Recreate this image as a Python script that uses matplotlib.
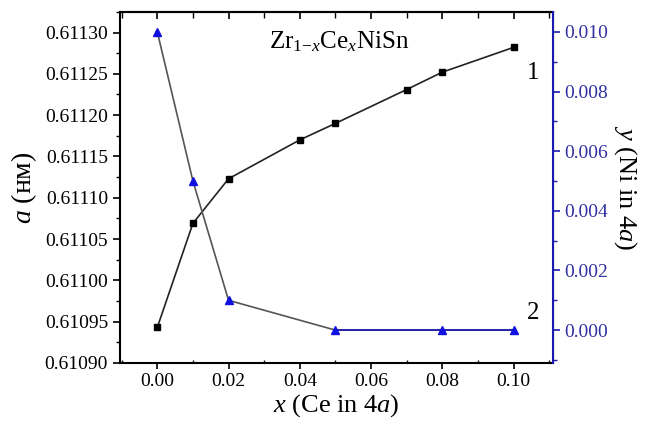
import matplotlib
matplotlib.use("Agg")
import matplotlib.pyplot as plt
from matplotlib.ticker import MultipleLocator, FormatStrFormatter

plt.rcParams['font.family'] = ['Liberation Serif', 'DejaVu Serif']
plt.rcParams['mathtext.fontset'] = 'custom'
plt.rcParams['mathtext.rm'] = 'Liberation Serif'
plt.rcParams['mathtext.it'] = 'Liberation Serif:italic'

# Series 1: lattice parameter a (nm)
x1 = [0.00, 0.01, 0.02, 0.04, 0.05, 0.07, 0.08, 0.10]
a1 = [0.610943, 0.611069, 0.611123, 0.611170, 0.611190, 0.611231, 0.611252, 0.611282]
# Series 2: y (Ni in 4a)
x2 = [0.00, 0.01, 0.02, 0.05, 0.08, 0.10]
y2 = [0.010, 0.005, 0.001, 0.000, 0.000, 0.000]

xticks = [0.00, 0.02, 0.04, 0.06, 0.08, 0.10]
blue = '#1a1ab0'

fig = plt.figure(figsize=(6.48, 4.24), dpi=100)
ax = fig.add_axes([0.185, 0.144, 0.668, 0.828])
ax2 = ax.twinx()

ax.plot(x1, a1, color='#222222', lw=1.2, marker='s', ms=5, mfc='black', mec='black', zorder=3)
ax2.plot(x2, y2, color='#555555', lw=1.2, zorder=2)
ax2.plot(x2[3:], y2[3:], color=blue, lw=1.2, zorder=2)
ax2.plot(x2, y2, ls='none', marker='^', ms=6, mfc='#1010e0', mec='#1010e0', zorder=4)

ax.set_xlim(-0.0105, 0.111)
ax.set_ylim(0.61090, 0.611325)
ax2.set_ylim(-0.0011, 0.01067)

ax.set_xticks(xticks)
ax.xaxis.set_major_formatter(FormatStrFormatter('%.2f'))
ax.xaxis.set_minor_locator(MultipleLocator(0.01))
ax.yaxis.set_major_locator(MultipleLocator(0.00005))
ax.yaxis.set_minor_locator(MultipleLocator(0.000025))
ax.yaxis.set_major_formatter(FormatStrFormatter('%.5f'))
ax2.yaxis.set_major_locator(MultipleLocator(0.002))
ax2.yaxis.set_minor_locator(MultipleLocator(0.001))
ax2.yaxis.set_major_formatter(FormatStrFormatter('%.3f'))

ax.tick_params(axis='x', which='major', direction='out', length=4, width=1.2, labelsize=14, top=False)
ax.tick_params(axis='x', which='minor', direction='in', length=2.5, width=1.0, top=False)
ax.tick_params(axis='y', which='major', direction='out', length=5, width=1.2, labelsize=14)
ax.tick_params(axis='y', which='minor', direction='out', length=3, width=1.0)
ax2.tick_params(axis='y', which='major', direction='out', length=5, width=1.2, labelsize=14,
                colors=blue, labelcolor='#3030a0')
ax2.tick_params(axis='y', which='minor', direction='out', length=3, width=1.0, colors=blue)

# top ticks pointing inward
axt = ax.secondary_xaxis('top')
axt.set_xticks(xticks)
axt.xaxis.set_minor_locator(MultipleLocator(0.01))
axt.tick_params(axis='x', which='major', direction='in', length=5, width=1.2, labeltop=False)
axt.tick_params(axis='x', which='minor', direction='in', length=4, width=1.0)
axt.spines['top'].set_linewidth(1.5)

for s in ['left', 'bottom', 'top']:
    ax.spines[s].set_linewidth(1.5)
ax2.spines['right'].set_color(blue)
ax2.spines['right'].set_linewidth(1.5)
for s in ['left', 'bottom', 'top']:
    ax2.spines[s].set_visible(False)

ax.set_xlabel(r'$x$ (Ce in 4$a$)', fontsize=19, labelpad=1)
ax.set_ylabel(r'$a$ (нм)', fontsize=20, labelpad=4)
ax2.set_ylabel(r'$y$ (Ni in 4$a$)', fontsize=19, rotation=270, labelpad=22)

ax.text(0.051, 0.611289, r'Zr$_{1\mathrm{-}x}$Ce$_x$NiSn', fontsize=18, ha='center', va='center')
ax.text(0.1056, 0.611251, '1', fontsize=18, ha='center', va='center')
ax2.text(0.1056, 0.00057, '2', fontsize=18, ha='center', va='center')

fig.savefig('out.png', dpi=100, facecolor='white')
